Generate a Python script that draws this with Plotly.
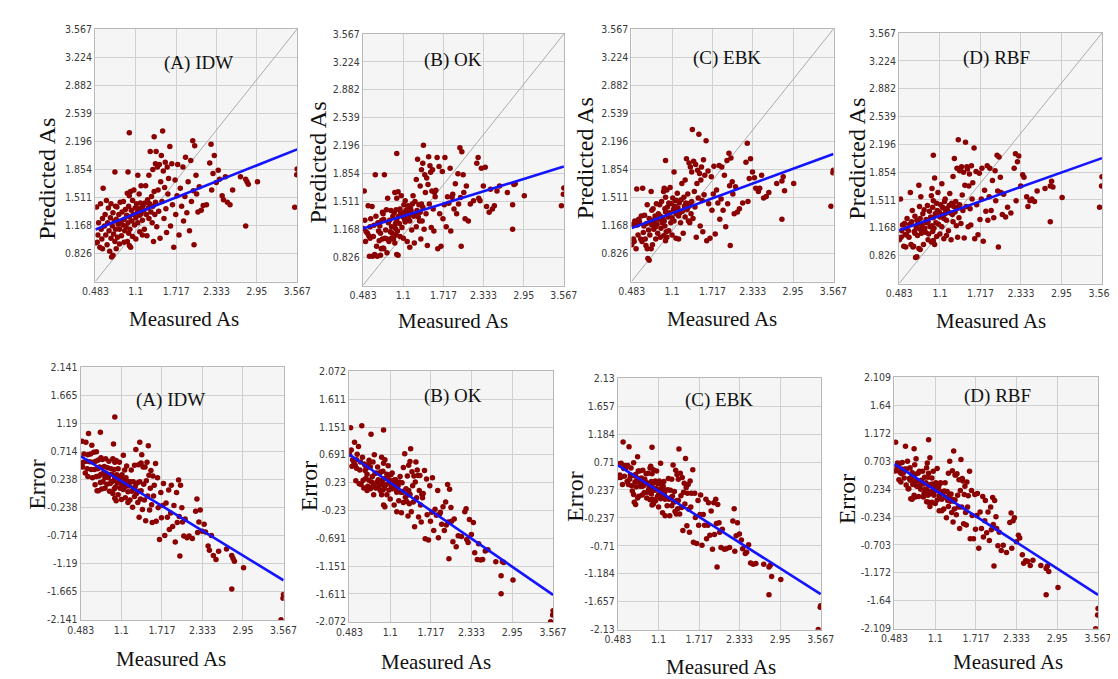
import numpy as np
import plotly.graph_objects as go

W, H = 1118, 679

panel_labels = ["(A) IDW", "(B) OK", "(C) EBK", "(D) RBF"]

measured = [
    0.483, 0.50, 0.51, 0.53, 0.55, 0.56, 0.57, 0.58, 0.59, 0.60,
    0.52, 0.59, 0.62, 0.63, 0.64, 0.65, 0.66, 0.67, 0.68, 0.69,
    0.70, 0.71, 0.72, 0.72, 0.73, 0.74, 0.75, 0.75, 0.76, 0.77,
    0.78, 0.78, 0.79, 0.79, 0.80, 0.80, 0.81, 0.82, 0.83, 0.84,
    0.85, 0.85, 0.86, 0.87, 0.88, 0.89, 0.90, 0.91, 0.92, 0.92,
    0.93, 0.94, 0.95, 0.96, 0.97, 0.97, 0.98, 0.98, 0.99, 0.99,
    1.00, 1.00, 1.00, 1.00, 1.01, 1.02, 1.02, 1.03, 1.04, 1.05,
    1.05, 1.06, 1.07, 1.08, 1.09, 1.10, 1.10, 1.11, 1.12, 1.13,
    1.13, 1.14, 1.15, 1.16, 1.16, 1.17, 1.18, 1.18, 1.19, 1.20,
    1.20, 1.21, 1.22, 1.23, 1.24, 1.25, 1.26, 1.27, 1.28, 1.29,
    1.30, 1.30, 1.31, 1.32, 1.33, 1.34, 1.35, 1.36, 1.36, 1.37,
    1.38, 1.38, 1.39, 1.40, 1.40, 1.41, 1.42, 1.43, 1.44, 1.45,
    1.46, 1.47, 1.48, 1.49, 1.50, 1.51, 1.52, 1.53, 1.54, 1.55,
    1.56, 1.57, 1.58, 1.59, 1.60, 1.62, 1.63, 1.65, 1.66, 1.68,
    1.70, 1.71, 1.73, 1.74, 1.76, 1.78, 1.80, 1.82, 1.83, 1.85,
    1.86, 1.88, 1.90, 1.92, 1.94, 1.95, 1.97, 1.98, 1.99, 2.00,
    2.02, 2.03, 2.05, 2.07, 2.10, 2.13, 2.18, 2.23, 2.25, 2.26,
    2.28, 2.30, 2.33, 2.36, 2.38, 2.42, 2.44, 2.47, 2.50, 2.54,
    2.58, 2.70, 2.78, 2.78, 2.80, 2.82, 2.96, 3.567, 3.56, 3.53,
]

pred_idw = [
    0.95, 1.39, 0.96, 1.20, 0.90, 1.43, 1.12, 1.00, 1.25, 1.62,
    1.05, 0.88, 1.16, 1.30, 1.05, 1.47, 0.93, 1.20, 1.38, 1.10,
    0.85, 1.26, 1.01, 1.43, 0.78, 1.16, 0.80, 1.32, 1.06, 1.22,
    0.97, 1.82, 1.40, 1.12, 0.88, 1.24, 1.39, 1.02, 1.18, 1.30,
    0.94, 1.12, 1.45, 1.21, 1.04, 1.33, 1.17, 1.46, 0.96, 1.24,
    1.10, 1.36, 1.15, 1.29, 0.97, 1.56, 1.20, 1.82, 1.40, 1.07,
    0.92, 1.53, 1.27, 2.30, 1.12, 1.58, 0.90, 1.35, 1.22, 1.47,
    1.03, 1.30, 1.60, 1.17, 1.38, 1.26, 1.00, 1.43, 1.32, 1.78,
    1.20, 1.37, 1.55, 1.29, 1.09, 1.44, 1.31, 1.65, 1.38, 1.23,
    1.05, 1.41, 1.35, 1.12, 1.44, 1.65, 1.30, 1.04, 1.48, 1.38,
    1.78, 1.25, 1.43, 2.07, 1.33, 1.52, 1.20, 1.85, 1.40, 0.97,
    2.25, 1.58, 1.30, 1.92, 1.45, 2.07, 1.15, 1.88, 1.60, 1.34,
    1.91, 1.01, 1.70, 2.02, 1.46, 2.32, 1.83, 1.25, 1.63, 1.94,
    1.37, 1.08, 1.88, 1.55, 1.74, 2.13, 1.16, 1.92, 1.42, 0.90,
    1.72, 1.30, 1.53, 1.91, 1.05, 1.62, 1.40, 1.88, 1.22, 1.52,
    2.00, 1.32, 1.70, 1.10, 1.96, 1.46, 2.20, 1.59, 0.93, 2.14,
    1.78, 1.55, 1.33, 1.64, 1.35, 1.41, 1.42, 1.93, 2.16, 1.60,
    1.80, 2.02, 1.69, 1.84, 1.73, 1.53, 1.48, 1.76, 1.45, 1.42,
    1.60, 1.76, 1.16, 1.73, 1.70, 1.67, 1.70, 1.857, 1.785, 1.389,
]

pred_ok = [
    1.18, 1.64, 1.28, 1.14, 1.12, 1.46, 1.09, 0.84, 1.20, 1.30,
    1.02, 1.06, 1.45, 0.84, 1.08, 1.22, 0.86, 1.84, 1.33, 0.96,
    0.84, 1.25, 1.15, 1.24, 1.03, 1.21, 0.85, 1.12, 0.93, 1.28,
    1.05, 1.38, 1.36, 0.94, 0.93, 1.29, 1.84, 1.06, 1.16, 1.41,
    0.88, 1.05, 1.55, 1.25, 1.02, 1.28, 1.14, 1.40, 1.06, 1.20,
    1.12, 1.33, 1.05, 1.37, 1.00, 1.62, 1.18, 1.24, 1.41, 1.10,
    0.86, 1.55, 1.29, 2.10, 1.15, 1.63, 0.85, 1.33, 1.24, 1.42,
    1.08, 1.38, 1.58, 1.19, 1.36, 1.32, 1.06, 1.47, 1.29, 1.52,
    1.26, 1.40, 1.38, 1.34, 1.02, 1.45, 1.30, 1.46, 1.35, 1.27,
    0.95, 1.43, 1.40, 1.16, 1.48, 1.58, 1.33, 1.00, 1.51, 1.36,
    1.78, 1.20, 1.40, 2.03, 1.32, 1.47, 1.27, 1.70, 1.38, 1.05,
    1.90, 1.48, 1.27, 1.98, 1.44, 2.20, 1.17, 1.84, 1.62, 1.36,
    1.80, 0.97, 1.72, 2.06, 1.48, 1.95, 1.87, 1.19, 1.64, 1.90,
    1.42, 1.15, 1.62, 1.57, 1.65, 2.05, 0.93, 1.94, 1.36, 0.96,
    1.88, 1.30, 1.47, 2.05, 1.20, 1.57, 1.49, 1.92, 1.15, 1.56,
    1.60, 1.42, 1.73, 1.36, 1.85, 1.48, 2.17, 1.56, 0.96, 2.12,
    1.84, 1.62, 1.30, 1.70, 1.27, 1.48, 1.52, 1.98, 2.05, 1.55,
    1.52, 1.92, 1.70, 1.93, 1.45, 1.38, 1.66, 1.42, 1.46, 1.64,
    1.70, 1.62, 1.17, 1.47, 1.72, 1.73, 1.58, 1.675, 1.60, 1.458,
]

pred_ebk = [
    0.93, 1.18, 1.00, 1.22, 0.88, 1.61, 1.17, 1.05, 1.24, 1.21,
    0.97, 1.22, 1.00, 1.28, 0.97, 1.62, 1.08, 1.16, 1.29, 1.00,
    0.92, 1.19, 0.88, 1.42, 0.76, 1.11, 0.74, 1.25, 1.05, 1.20,
    0.88, 1.58, 1.35, 1.17, 0.93, 1.23, 1.37, 1.12, 1.21, 1.28,
    1.00, 1.15, 1.43, 1.18, 1.07, 1.31, 1.24, 1.42, 1.02, 1.28,
    1.13, 1.46, 1.20, 1.25, 1.04, 1.58, 1.22, 1.62, 1.37, 1.16,
    0.98, 1.51, 1.33, 1.96, 1.09, 1.60, 1.02, 1.39, 1.27, 1.44,
    1.10, 1.32, 1.63, 1.20, 1.43, 1.26, 1.05, 1.50, 1.36, 1.82,
    1.22, 1.40, 1.47, 1.31, 1.01, 1.47, 1.35, 1.56, 1.38, 1.28,
    1.00, 1.44, 1.32, 1.20, 1.48, 1.68, 1.34, 1.07, 1.51, 1.40,
    1.72, 1.27, 1.44, 1.98, 1.36, 1.55, 1.22, 1.93, 1.40, 1.20,
    1.88, 1.44, 1.31, 1.82, 1.46, 2.34, 1.25, 1.95, 1.58, 1.39,
    1.91, 1.02, 1.68, 1.84, 1.50, 2.28, 1.80, 1.16, 1.72, 1.88,
    1.47, 1.09, 1.97, 1.54, 1.78, 2.20, 0.98, 1.83, 1.43, 1.01,
    1.76, 1.35, 1.55, 1.89, 1.06, 1.60, 1.44, 1.90, 1.24, 1.49,
    1.88, 1.35, 1.78, 1.15, 1.96, 1.43, 2.05, 1.65, 0.92, 1.99,
    1.70, 1.55, 1.31, 1.64, 1.33, 1.37, 1.44, 1.94, 2.17, 1.46,
    1.74, 1.98, 1.82, 1.75, 1.62, 1.58, 1.62, 1.78, 1.50, 1.52,
    1.57, 1.68, 1.24, 1.71, 1.76, 1.59, 1.68, 1.840, 1.81, 1.401,
]

pred_rbf = [
    1.02, 1.52, 1.05, 1.20, 0.94, 1.22, 1.08, 0.93, 1.16, 1.28,
    1.13, 1.08, 1.13, 1.05, 1.21, 1.60, 0.96, 1.24, 1.38, 0.93,
    0.94, 1.12, 1.10, 1.31, 0.80, 1.17, 0.81, 1.26, 1.07, 1.22,
    0.91, 1.69, 1.43, 1.15, 0.90, 1.28, 1.55, 1.10, 1.20, 1.34,
    0.96, 1.13, 1.39, 1.16, 1.11, 1.27, 1.23, 1.44, 1.02, 1.24,
    1.09, 1.37, 1.18, 1.30, 0.99, 1.56, 1.19, 1.65, 1.42, 1.12,
    1.01, 1.50, 1.29, 2.06, 1.16, 1.78, 0.96, 1.34, 1.23, 1.47,
    1.06, 1.38, 1.60, 1.21, 1.36, 1.30, 1.09, 1.45, 1.33, 1.71,
    1.18, 1.42, 1.41, 1.28, 1.03, 1.49, 1.34, 1.52, 1.37, 1.26,
    1.07, 1.40, 1.37, 1.13, 1.44, 1.59, 1.35, 1.02, 1.47, 1.33,
    1.80, 1.24, 1.43, 2.02, 1.36, 1.49, 1.19, 1.90, 1.42, 1.05,
    2.25, 1.41, 1.29, 1.87, 1.45, 1.88, 1.22, 1.92, 1.57, 1.38,
    1.85, 1.04, 1.69, 2.22, 1.43, 1.92, 1.89, 1.18, 1.68, 1.83,
    1.40, 1.20, 1.93, 1.52, 1.72, 2.15, 1.03, 1.86, 1.45, 1.08,
    1.84, 1.27, 1.52, 1.90, 1.00, 1.63, 1.37, 1.93, 1.26, 1.55,
    1.90, 1.38, 1.75, 1.29, 1.87, 1.50, 2.06, 1.62, 0.93, 2.04,
    1.79, 1.60, 1.33, 1.58, 1.30, 1.42, 1.35, 1.90, 2.08, 1.50,
    1.98, 2.05, 1.68, 1.82, 1.79, 1.55, 1.43, 1.50, 1.52, 1.49,
    1.62, 1.65, 1.24, 1.68, 1.74, 1.67, 1.54, 1.795, 1.680, 1.421,
]

predicted = [pred_idw, pred_ok, pred_ebk, pred_rbf]

# regression lines (Predicted = a + b * Measured)
fit_slope = [0.318, 0.247, 0.293, 0.288]
fit_intercept = [0.962, 1.059, 0.994, 0.998]

x_ticks = [0.483, 1.1, 1.717, 2.333, 2.95, 3.567]
pred_ticks = [0.483, 0.826, 1.168, 1.511, 1.854, 2.196, 2.539, 2.882, 3.224, 3.567]
error_ticks = [
    [-2.141, -1.665, -1.19, -0.714, -0.238, 0.238, 0.714, 1.19, 1.665, 2.141],
    [-2.072, -1.611, -1.151, -0.691, -0.23, 0.23, 0.691, 1.151, 1.611, 2.072],
    [-2.13, -1.657, -1.184, -0.71, -0.237, 0.237, 0.71, 1.184, 1.657, 2.13],
    [-2.109, -1.64, -1.172, -0.703, -0.234, 0.234, 0.703, 1.172, 1.64, 2.109],
]

# ---- layout (pixel boxes of plot areas: x0, x1, y0, y1 from top) ----
top_boxes = [(76, 283, 15, 272), (350, 556, 20, 276), (625, 832, 15, 272), (899, 1107, 19, 274)]
bot_boxes = [(61, 269, 359, 616), (336, 545, 363, 618), (611, 819, 370, 626), (894, 1103, 369, 625)]
top_ytitle = [(27, 167), (304, 151), (577, 147), (856, 147)]
bot_ytitle = [(17, 478), (295, 480), (567, 490), (846, 493)]
top_xtitle = [(167, 310), (442, 312), (718, 310), (993, 312)]
bot_xtitle = [(154, 656), (425, 659), (717, 664), (1010, 659)]
top_label = [(182, 50), (442, 47), (723, 45), (999, 45)]
bot_label = [(153, 392), (442, 388), (715, 392), (1000, 388)]

PT_COLOR = "#8b0000"
FIT_COLOR = "#1414ff"
GRID = "#d0d0d0"
BORDER = "#b8b8b8"
TICKFONT = dict(family="Liberation Sans Narrow, Arial Narrow, DejaVu Sans Condensed, Liberation Sans, sans-serif",
                size=10.5, color="#3a3a3a")
SERIF = "Liberation Serif, Times New Roman, serif"

fig = go.Figure()
m = np.array(measured)
xr = [x_ticks[0], x_ticks[-1]]
pad = 0.004


def fx(px):
    return px / W


def fy(py):
    return 1 - py / H


annotations = []
idx = 0
for row in range(2):
    for k in range(4):
        idx += 1
        xa = "x" if idx == 1 else f"x{idx}"
        ya = "y" if idx == 1 else f"y{idx}"
        p = np.array(predicted[k])
        if row == 0:
            box = top_boxes[k]
            yvals = p
            yt = pred_ticks
            ytext = [""] + [f"{v:g}" for v in pred_ticks[1:]]
            # 1:1 reference line
            fig.add_trace(go.Scatter(x=xr, y=xr, mode="lines", xaxis=xa, yaxis=ya,
                                     line=dict(color="#ababab", width=1), hoverinfo="skip"))
            fit_y = [fit_intercept[k] + fit_slope[k] * v for v in xr]
            ytitle, xtitle, lab = top_ytitle[k], top_xtitle[k], top_label[k]
            ytxt = "Predicted As"
        else:
            box = bot_boxes[k]
            yvals = p - m
            yt = error_ticks[k]
            ytext = [f"{v:g}" for v in yt]
            fit_y = [fit_intercept[k] + (fit_slope[k] - 1) * v for v in xr]
            ytitle, xtitle, lab = bot_ytitle[k], bot_xtitle[k], bot_label[k]
            ytxt = "Error"
        fig.add_trace(go.Scatter(x=m, y=yvals, mode="markers", xaxis=xa, yaxis=ya,
                                 marker=dict(color=PT_COLOR, size=5.5, line=dict(width=0))))
        fig.add_trace(go.Scatter(x=xr, y=fit_y, mode="lines", xaxis=xa, yaxis=ya,
                                 line=dict(color=FIT_COLOR, width=2.6), hoverinfo="skip"))
        x0, x1, y0, y1 = box
        xkey = "xaxis" if idx == 1 else f"xaxis{idx}"
        ykey = "yaxis" if idx == 1 else f"yaxis{idx}"
        fig.update_layout({
            xkey: dict(domain=[fx(x0), fx(x1)], anchor=ya, range=[xr[0] - pad, xr[1] + pad],
                       tickvals=x_ticks, ticktext=[f"{v:g}" for v in x_ticks],
                       showgrid=True, gridcolor=GRID, gridwidth=1.3, zeroline=False,
                       showline=True, mirror=True, linecolor=BORDER, linewidth=1,
                       tickfont=TICKFONT, ticks="", fixedrange=True),
            ykey: dict(domain=[fy(y1), fy(y0)], anchor=xa, range=[yt[0] - pad, yt[-1] + pad],
                       tickvals=yt, ticktext=ytext,
                       showgrid=True, gridcolor=GRID, gridwidth=1.3, zeroline=False,
                       showline=True, mirror=True, linecolor=BORDER, linewidth=1,
                       tickfont=TICKFONT, ticks="", fixedrange=True),
        })
        annotations.append(dict(x=fx(ytitle[0]), y=fy(ytitle[1]), xref="paper", yref="paper",
                                text=ytxt, textangle=-90, showarrow=False,
                                font=dict(family=SERIF, size=24, color="#111"),
                                xanchor="center", yanchor="middle"))
        annotations.append(dict(x=fx(xtitle[0]), y=fy(xtitle[1]), xref="paper", yref="paper",
                                text="Measured As", showarrow=False,
                                font=dict(family=SERIF, size=21, color="#111"),
                                xanchor="center", yanchor="middle"))
        annotations.append(dict(x=fx(lab[0]), y=fy(lab[1]), xref="paper", yref="paper",
                                text=panel_labels[k], showarrow=False,
                                font=dict(family=SERIF, size=19, color="#111"),
                                xanchor="center", yanchor="middle"))

fig.update_layout(width=W, height=H, margin=dict(l=0, r=0, t=0, b=0),
                  paper_bgcolor="white", plot_bgcolor="#f5f5f5",
                  showlegend=False, annotations=annotations)

fig.write_html("out.html")
